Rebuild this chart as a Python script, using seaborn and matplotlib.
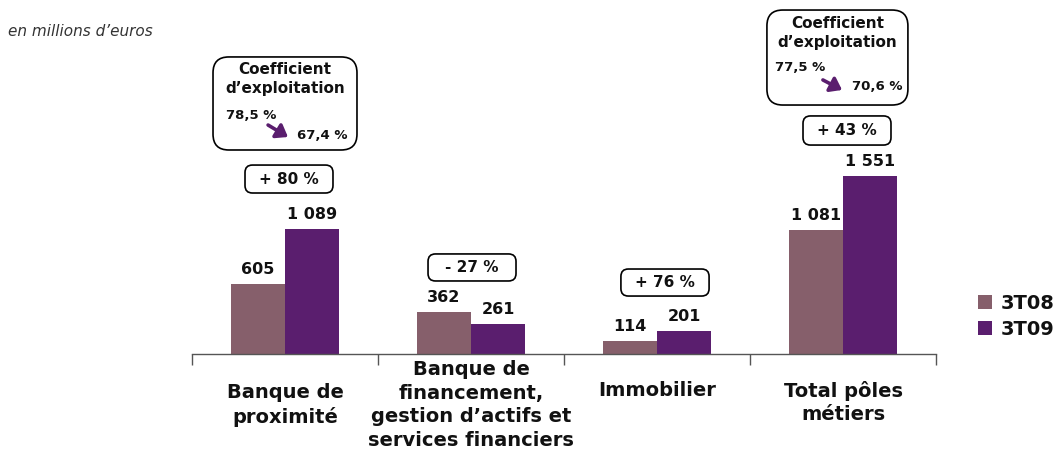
import matplotlib
matplotlib.use("Agg")
import matplotlib.pyplot as plt
import seaborn as sns
import pandas as pd
from matplotlib.patches import FancyBboxPatch, FancyArrowPatch, Patch

categories = ["Banque de\nproximité",
              "Banque de\nfinancement,\ngestion d’actifs et\nservices financiers",
              "Immobilier",
              "Total pôles\nmétiers"]
series_names = ["3T08", "3T09"]
values_3t08 = [605, 362, 114, 1081]
values_3t09 = [1089, 261, 201, 1551]
value_labels_3t08 = ["605", "362", "114", "1 081"]
value_labels_3t09 = ["1 089", "261", "201", "1 551"]
growth_labels = ["+ 80 %", "- 27 %", "+ 76 %", "+ 43 %"]
coef_before = ["78,5 %", "77,5 %"]
coef_after = ["67,4 %", "70,6 %"]

colors = ["#865F6B", "#5A1E6E"]

df = pd.DataFrame({
    "cat": list(range(4)) * 2,
    "serie": [series_names[0]] * 4 + [series_names[1]] * 4,
    "val": values_3t08 + values_3t09,
})

sns.set_theme(style="white")
plt.rcParams['font.family'] = ['DejaVu Sans']

fig = plt.figure(figsize=(10.56, 4.5), dpi=100)
AX_H = 350.75
ax = fig.add_axes([192 / 1056, 96 / 450, (936 - 192) / 1056, AX_H / 450])

sns.barplot(data=df, x="cat", y="val", hue="serie", palette=colors,
            width=0.58, ax=ax, legend=False, saturation=1, linewidth=0)

ax.set_xlim(-0.5, 3.5)
ax.set_ylim(0, 3050)

# value labels
for cont, labs in zip(ax.containers, [value_labels_3t08, value_labels_3t09]):
    for bar, lab in zip(cont, labs):
        ax.annotate(lab, (bar.get_x() + bar.get_width() / 2, bar.get_height()),
                    xytext=(0, 5), textcoords="offset points",
                    ha="center", va="bottom", fontsize=11.5,
                    fontweight="bold", color="#111111")

# axes styling
for s in ["top", "right", "left"]:
    ax.spines[s].set_visible(False)
ax.spines["bottom"].set_color("#555555")
ax.spines["bottom"].set_linewidth(1.0)
ax.set_yticks([])
ax.set_xticks(range(4))
ax.set_xticklabels([""] * 4)
ax.tick_params(axis="x", which="major", length=0)
ax.set_xticks([-0.5, 0.5, 1.5, 2.5, 3.5], minor=True)
ax.tick_params(axis="x", which="minor", bottom=True, length=8, width=1.0,
               color="#555555", direction="out")
ax.set_xlabel("")
ax.set_ylabel("")

# category labels (top of first line, in pixels from figure top)
label_top_px = [383, 360, 381, 381]
xtrans = ax.get_xaxis_transform()
for i, (lab, top) in enumerate(zip(categories, label_top_px)):
    ax.text(i, (354 - top) / AX_H, lab, transform=xtrans, ha="center",
            va="top", fontsize=14, fontweight="bold", color="#111111",
            linespacing=1.3, multialignment="center")

ASPECT = (1 / 0.115) / (1 / 186.0)


def rbox(x0, x1, y0, y1, r):
    p = FancyBboxPatch((x0, y0), x1 - x0, y1 - y0,
                       boxstyle=f"round,pad=0,rounding_size={r}",
                       mutation_aspect=ASPECT, facecolor="white",
                       edgecolor="black", linewidth=1.2, clip_on=False,
                       zorder=3)
    ax.add_patch(p)


# growth boxes
growth_boxes = [(-0.215, 0.258, 1400, 1643),
                (0.769, 1.242, 635, 870),
                (1.806, 2.280, 504, 739),
                (2.785, 3.258, 1817, 2070)]
for (x0, x1, y0, y1), lab in zip(growth_boxes, growth_labels):
    rbox(x0, x1, y0, y1, 0.04)
    ax.text((x0 + x1) / 2, (y0 + y1) / 2, lab, ha="center", va="center",
            fontsize=11, fontweight="bold", color="#111111", zorder=4)

# coefficient boxes
coef_boxes = [(-0.387, 0.387, 1774, 2583), (2.591, 3.349, 2165, 2991)]
coef_title_y = [(2470, 2313), (2878, 2713)]
coef_before_xy = [(-0.183, 2078), (2.769, 2487)]
coef_after_xy = [(0.199, 1904), (3.183, 2322)]
coef_arrows = [((-0.091, 1991), (0.016, 1887)), ((2.892, 2383), (2.995, 2296))]

for i in range(2):
    x0, x1, y0, y1 = coef_boxes[i]
    rbox(x0, x1, y0, y1, 0.085)
    cx = (x0 + x1) / 2
    ax.text(cx, coef_title_y[i][0], "Coefficient", ha="center", va="center",
            fontsize=11, fontweight="bold", color="#111111", zorder=4)
    ax.text(cx, coef_title_y[i][1], "d’exploitation", ha="center", va="center",
            fontsize=11, fontweight="bold", color="#111111", zorder=4)
    ax.text(*coef_before_xy[i], coef_before[i], ha="center", va="center",
            fontsize=9.5, fontweight="bold", color="#111111", zorder=4)
    ax.text(*coef_after_xy[i], coef_after[i], ha="center", va="center",
            fontsize=9.5, fontweight="bold", color="#111111", zorder=4)
    a = FancyArrowPatch(coef_arrows[i][0], coef_arrows[i][1],
                        arrowstyle="-|>,head_length=0.55,head_width=0.4",
                        mutation_scale=12, color="#5A1E6E", linewidth=2.6,
                        shrinkA=0, shrinkB=0, zorder=4, clip_on=False)
    ax.add_patch(a)

# legend
handles = [Patch(facecolor=c, edgecolor="none") for c in colors]
fig.legend(handles, series_names, loc="upper left",
           bbox_to_anchor=(974 / 1056, 1 - 290 / 450), frameon=False,
           prop={"size": 14, "weight": "bold"}, handlelength=0.75,
           handleheight=0.75, handletextpad=0.4, labelspacing=0.35,
           borderaxespad=0, borderpad=0.2, labelcolor="#111111")

fig.text(8 / 1056, 1 - 32 / 450, "en millions d’euros", fontsize=11,
         style="italic", color="#333333", va="center", ha="left")

fig.savefig("out.png", dpi=100)
